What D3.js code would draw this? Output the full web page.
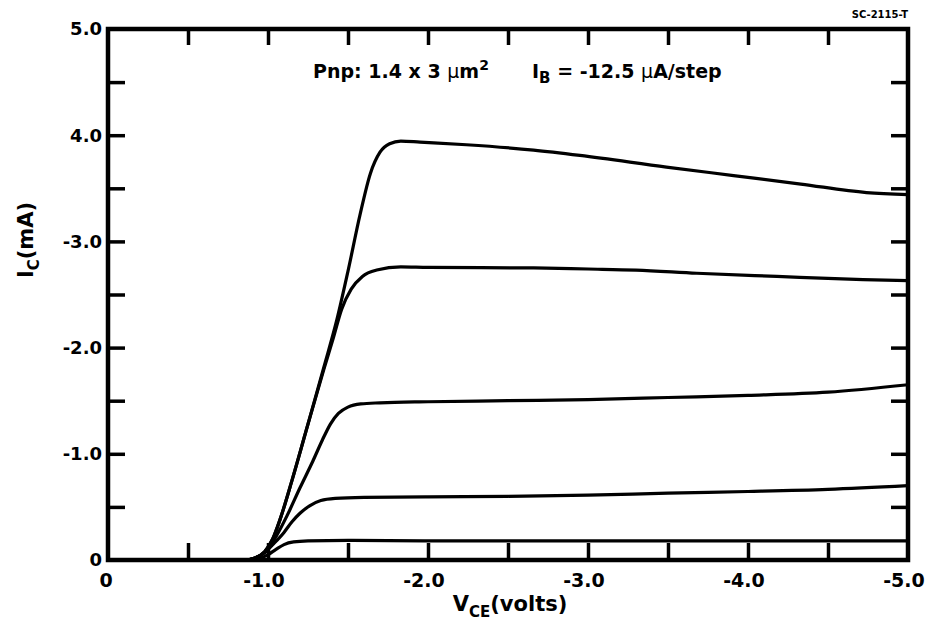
<!DOCTYPE html>
<html>
<head>
<meta charset="utf-8">
<script src="https://cdn.jsdelivr.net/npm/d3@7"></script>
<style>
  html, body { margin: 0; padding: 0; background: #fff; }
  svg { display: block; }
  text { font-family: "DejaVu Sans", sans-serif; font-weight: bold; fill: #000; }
</style>
</head>
<body>
<svg id="chart" width="925" height="622"></svg>
<script>
// Collector current vs collector-emitter voltage, pnp transistor,
// base current stepped by -12.5 uA. Each series: [VCE (V), IC (mA)].
const ib0 = [[0, 0], [-5.0, 0]];
const ib1 = [[0, 0], [-0.88, 0], [-0.95, -0.015], [-1.0, -0.05], [-1.05, -0.1], [-1.1, -0.145],
  [-1.16, -0.17], [-1.25, -0.18], [-1.5, -0.185], [-2.0, -0.18], [-3.0, -0.18], [-4.0, -0.18], [-5.0, -0.18]];
const ib2 = [[0, 0], [-0.85, 0], [-0.92, -0.02], [-0.98, -0.07], [-1.04, -0.16], [-1.1, -0.26],
  [-1.15, -0.36], [-1.2, -0.44], [-1.26, -0.51], [-1.33, -0.56], [-1.42, -0.58], [-1.6, -0.59],
  [-2.0, -0.595], [-2.5, -0.6], [-3.0, -0.61], [-3.5, -0.63], [-4.0, -0.645], [-4.5, -0.665], [-5.0, -0.7]];
const ib3 = [[0, 0], [-0.85, 0], [-0.92, -0.02], [-0.98, -0.07], [-1.05, -0.22], [-1.12, -0.42],
  [-1.2, -0.68], [-1.28, -0.93], [-1.34, -1.13], [-1.39, -1.28], [-1.44, -1.38], [-1.5, -1.44],
  [-1.58, -1.47], [-1.7, -1.48], [-2.0, -1.49], [-2.5, -1.5], [-3.0, -1.51], [-3.5, -1.53],
  [-4.0, -1.55], [-4.5, -1.58], [-5.0, -1.65]];
const ib4 = [[0, 0], [-0.85, 0], [-0.92, -0.02], [-0.98, -0.08], [-1.03, -0.2], [-1.075, -0.38],
  [-1.15, -0.75], [-1.25, -1.28], [-1.35, -1.8], [-1.41, -2.1], [-1.46, -2.36], [-1.52, -2.55],
  [-1.59, -2.67], [-1.68, -2.73], [-1.83, -2.76], [-2.0, -2.755], [-2.66, -2.75], [-3.0, -2.74],
  [-3.3, -2.73], [-3.68, -2.7], [-4.18, -2.67], [-4.72, -2.64], [-5.0, -2.63]];
const ib5 = [[0, 0], [-0.5, 0], [-0.85, 0], [-0.92, -0.02], [-0.98, -0.08], [-1.03, -0.2],
  [-1.075, -0.38], [-1.15, -0.75], [-1.25, -1.28], [-1.35, -1.82], [-1.43, -2.26], [-1.5, -2.72],
  [-1.575, -3.25], [-1.64, -3.64], [-1.7, -3.84], [-1.76, -3.92], [-1.83, -3.945], [-1.95, -3.935],
  [-2.24, -3.91], [-2.66, -3.86], [-2.95, -3.81], [-3.49, -3.7], [-3.91, -3.62], [-4.33, -3.54],
  [-4.74, -3.46], [-5.0, -3.44]];
const seriesList = [ib0, ib1, ib2, ib3, ib4, ib5];

// Axis ticks and their printed labels
const xMajorTicks = [0, -1, -2, -3, -4, -5];
const xTickLabels = ["0", "-1.0", "-2.0", "-3.0", "-4.0", "-5.0"];
const yMajorTicks = [0, -1, -2, -3, -4, -5];
const yTickLabels = ["0", "-1.0", "-2.0", "-3.0", "4.0", "5.0"];
const minorStep = [-0.5, -1, -1.5, -2, -2.5, -3, -3.5, -4, -4.5];

const svg = d3.select("#chart");
const plotLeft = 108, plotRight = 908, plotTop = 29, plotBottom = 560;

const x = d3.scaleLinear().domain([0, -5]).range([plotLeft, plotRight]);
const y = d3.scaleLinear().domain([0, -5]).range([plotBottom, plotTop]);

// Inward-pointing ticks on all four sides
const tickStyle = g => {
  g.select(".domain").remove();
  g.selectAll(".tick line").attr("stroke", "#000").attr("stroke-width", 3.5);
};

svg.append("g").attr("transform", `translate(${plotLeft},0)`)
  .call(d3.axisLeft(y).tickValues(minorStep).tickSize(-17).tickFormat(""))
  .call(tickStyle);
svg.append("g").attr("transform", `translate(${plotRight},0)`)
  .call(d3.axisRight(y).tickValues(minorStep).tickSize(-17).tickFormat(""))
  .call(tickStyle);
svg.append("g").attr("transform", `translate(0,${plotTop})`)
  .call(d3.axisTop(x).tickValues(minorStep).tickSize(-16).tickFormat(""))
  .call(tickStyle);
svg.append("g").attr("transform", `translate(0,${plotBottom})`)
  .call(d3.axisBottom(x).tickValues(minorStep).tickSize(-17).tickFormat(""))
  .call(tickStyle);

// Curves
const line = d3.line()
  .x(d => x(d[0]))
  .y(d => y(d[1]))
  .curve(d3.curveMonotoneX);

svg.append("g").selectAll("path")
  .data(seriesList)
  .join("path")
  .attr("d", line)
  .attr("fill", "none")
  .attr("stroke", "#000")
  .attr("stroke-width", 3.2)
  .attr("stroke-linejoin", "round")
  .attr("stroke-linecap", "round");

// Frame
svg.append("rect")
  .attr("x", plotLeft).attr("y", plotTop)
  .attr("width", plotRight - plotLeft).attr("height", plotBottom - plotTop)
  .attr("fill", "none").attr("stroke", "#000").attr("stroke-width", 4.5);

// Tick labels
svg.append("g").selectAll("text")
  .data(yMajorTicks)
  .join("text")
  .attr("x", plotLeft - 6)
  .attr("y", d => y(d))
  .attr("dy", "0.36em")
  .attr("text-anchor", "end")
  .style("font-size", "18px")
  .text((d, i) => yTickLabels[i]);

svg.append("g").selectAll("text")
  .data(xMajorTicks)
  .join("text")
  .attr("x", d => x(d))
  .attr("dx", (d, i) => xTickLabels[i].startsWith("-") ? -4 : -2)
  .attr("y", plotBottom + 27)
  .attr("text-anchor", "middle")
  .style("font-size", "19px")
  .text((d, i) => xTickLabels[i]);

// Axis titles
const xt = svg.append("text")
  .attr("x", 510).attr("y", 611)
  .attr("text-anchor", "middle")
  .style("font-size", "21px");
xt.append("tspan").text("V");
xt.append("tspan").attr("dy", 6).style("font-size", "15px").text("CE");
xt.append("tspan").attr("dy", -6).text("(volts)");

const yt = svg.append("text")
  .attr("transform", "translate(33,240) rotate(-90)")
  .attr("text-anchor", "middle")
  .style("font-size", "21px");
yt.append("tspan").text("I");
yt.append("tspan").attr("dy", 6).style("font-size", "15px").text("C");
yt.append("tspan").attr("dy", -6).text("(mA)");

// Device annotation
const title = svg.append("text")
  .attr("x", 313).attr("y", 78)
  .style("font-size", "19px");
title.append("tspan").text("Pnp: 1.4 x 3 ");
title.append("tspan").style("font-weight", "normal").text("μ");
title.append("tspan").text("m");
title.append("tspan").attr("dy", -8).style("font-size", "14px").text("2");
title.append("tspan").attr("dy", 8).attr("x", 532).text("I");
title.append("tspan").attr("dy", 5).style("font-size", "15px").text("B");
title.append("tspan").attr("dy", -5).text(" = -12.5 ");
title.append("tspan").style("font-weight", "normal").text("μ");
title.append("tspan").text("A/step");

// Figure reference number
svg.append("text")
  .attr("x", 908).attr("y", 18)
  .attr("text-anchor", "end")
  .style("font-size", "10px")
  .text("SC-2115-T");
</script>
</body>
</html>
